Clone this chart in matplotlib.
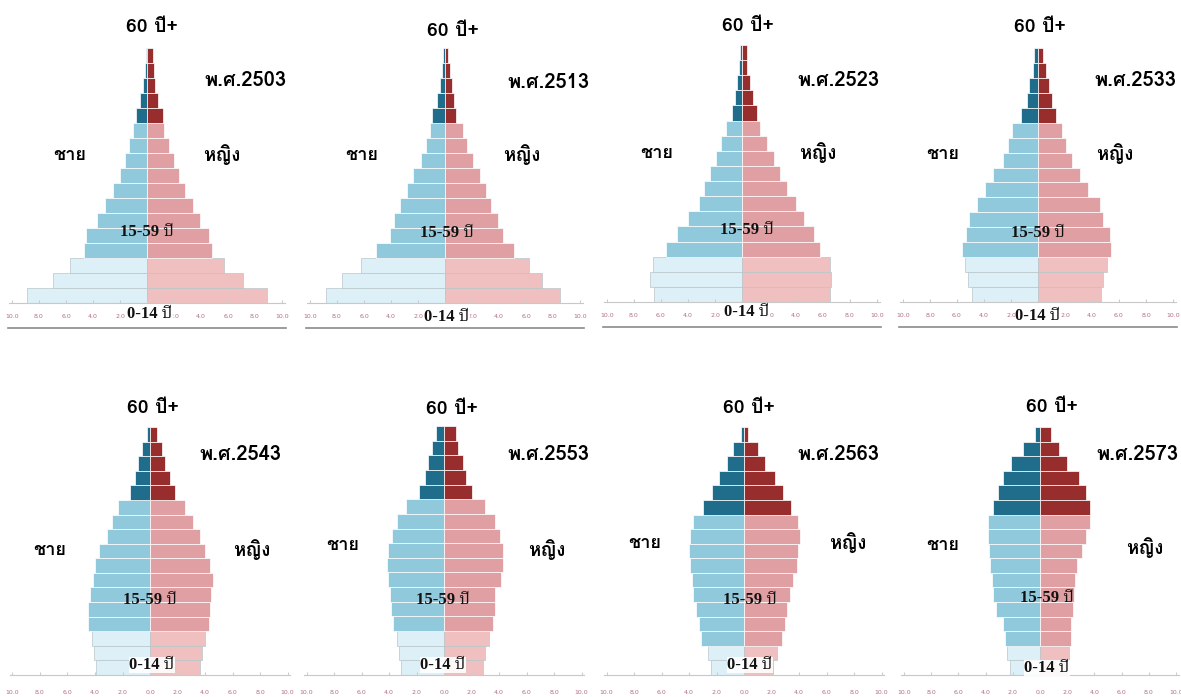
import numpy as np
import matplotlib
matplotlib.use('Agg')
import matplotlib.pyplot as plt
from matplotlib.lines import Line2D

# age groups 0-4 ... 80+ (bottom to top), percent of population
ages = ['0-4', '5-9', '10-14', '15-19', '20-24', '25-29', '30-34', '35-39', '40-44',
        '45-49', '50-54', '55-59', '60-64', '65-69', '70-74', '75-79', '80+']

male_2503 = [8.9, 7.0, 5.7, 4.7, 4.5, 3.7, 3.1, 2.5, 2.0, 1.65, 1.35, 1.05, 0.8, 0.5, 0.3, 0.17, 0.07]
female_2503 = [8.9, 7.1, 5.7, 4.8, 4.6, 3.9, 3.4, 2.8, 2.4, 2.0, 1.6, 1.25, 1.2, 0.8, 0.6, 0.5, 0.45]

male_2513 = [8.8, 7.6, 6.2, 5.1, 4.1, 3.8, 3.3, 2.8, 2.35, 1.8, 1.4, 1.1, 0.95, 0.6, 0.4, 0.25, 0.17]
female_2513 = [8.5, 7.2, 6.2, 5.1, 4.3, 3.9, 3.4, 3.0, 2.6, 2.05, 1.6, 1.3, 0.85, 0.65, 0.55, 0.35, 0.25]

male_2523 = [6.5, 6.8, 6.6, 5.6, 4.8, 4.0, 3.2, 2.8, 2.4, 1.9, 1.55, 1.15, 0.75, 0.5, 0.37, 0.25, 0.17]
female_2523 = [6.5, 6.6, 6.5, 5.8, 5.3, 4.6, 4.0, 3.3, 2.8, 2.35, 1.85, 1.35, 1.1, 0.85, 0.6, 0.4, 0.37]

male_2533 = [4.9, 5.2, 5.4, 5.6, 5.35, 5.1, 4.5, 3.95, 3.3, 2.6, 2.2, 1.9, 1.25, 0.85, 0.65, 0.4, 0.3]
female_2533 = [4.7, 4.8, 5.1, 5.4, 5.3, 4.8, 4.6, 3.7, 3.1, 2.5, 2.1, 1.8, 1.35, 1.0, 0.8, 0.6, 0.4]

male_2543 = [3.9, 4.1, 4.25, 4.5, 4.5, 4.35, 4.15, 4.0, 3.7, 3.15, 2.8, 2.3, 1.45, 1.1, 0.85, 0.55, 0.25]
female_2543 = [3.6, 3.75, 4.0, 4.3, 4.35, 4.4, 4.6, 4.35, 4.0, 3.6, 3.15, 2.55, 1.8, 1.45, 1.1, 0.85, 0.5]

male_2553 = [3.1, 3.3, 3.45, 3.7, 3.85, 3.9, 4.05, 4.15, 4.05, 3.8, 3.45, 2.75, 1.8, 1.4, 1.15, 0.9, 0.6]
female_2553 = [2.8, 2.95, 3.3, 3.55, 3.7, 3.7, 4.15, 4.3, 4.3, 4.05, 3.7, 2.95, 2.05, 1.6, 1.4, 1.0, 0.9]

male_2563 = [2.4, 2.65, 3.1, 3.3, 3.5, 3.7, 3.8, 3.95, 4.0, 3.95, 3.7, 2.95, 2.35, 1.85, 1.25, 0.8, 0.2]
female_2563 = [2.1, 2.4, 2.75, 3.0, 3.15, 3.35, 3.55, 3.85, 3.95, 4.05, 3.95, 3.45, 2.85, 2.25, 1.5, 1.05, 0.3]

male_2573 = [2.2, 2.4, 2.6, 2.7, 3.2, 3.45, 3.55, 3.65, 3.75, 3.8, 3.8, 3.45, 3.1, 2.7, 2.1, 1.25, 0.4]
female_2573 = [2.0, 2.15, 2.25, 2.25, 2.4, 2.5, 2.6, 2.75, 3.1, 3.35, 3.65, 3.7, 3.35, 2.85, 2.0, 1.4, 0.8]

years = ['2503', '2513', '2523', '2533', '2543', '2553', '2563', '2573']
males = [male_2503, male_2513, male_2523, male_2533, male_2543, male_2553, male_2563, male_2573]
females = [female_2503, female_2513, female_2523, female_2533, female_2543, female_2553, female_2563, female_2573]
# how many bars are drawn as children / working age in each picture
n_young = [3, 3, 3, 3, 3, 3, 2, 2]
n_work = [9, 9, 9, 9, 9, 9, 9, 9]

xticks = [-10, -8, -6, -4, -2, 0, 2, 4, 6, 8, 10]
xtick_labels = ['10.0', '8.0', '6.0', '4.0', '2.0', '0.0', '2.0', '4.0', '6.0', '8.0', '10.0']

W, H = 1181, 697

# panel placement in pixels: centre x, axis y, top y, px per percent
panels = [
    (147, 303, 48, 13.5), (445, 303, 48, 13.5), (742, 302, 45, 13.5), (1038, 302, 48, 13.5),
    (150, 675, 427, 13.75), (444, 675, 426, 13.75), (744, 675, 427, 13.75), (1040, 675, 427, 13.6),
]
# label positions (pixels) : 60+, year, male, female, 15-59, 0-14
label_pos = [
    [(152, 27), (245, 80), (70, 155), (222, 155), (147, 232), (150, 314)],
    [(453, 31), (548, 82), (362, 155), (522, 155), (447, 233), (447, 317)],
    [(748, 26), (838, 80), (657, 153), (818, 153), (747, 230), (747, 312)],
    [(1040, 27), (1135, 80), (943, 154), (1115, 154), (1038, 233), (1038, 316)],
    [(153, 408), (240, 455), (50, 550), (252, 550), (150, 600), (152, 665)],
    [(452, 409), (548, 455), (343, 545), (547, 550), (443, 600), (443, 665)],
    [(749, 408), (838, 455), (645, 543), (848, 543), (750, 600), (750, 665)],
    [(1052, 407), (1137, 455), (943, 545), (1145, 548), (1047, 598), (1047, 668)],
]

m_cols = ['#ddf0f7', '#90c8dc', '#1f6c8b']
f_cols = ['#f0c0c0', '#e0a0a3', '#982d2e']

thai = ['Loma', 'Noto Sans Thai', 'DejaVu Sans']
serif = ['Liberation Serif', 'Noto Serif Thai', 'DejaVu Serif']


def fx(x):
    return x / W


def fy(y):
    return 1 - y / H


fig = plt.figure(figsize=(W / 100, H / 100), dpi=100)

half = 10.7
for k in range(8):
    cx, base, top, sc = panels[k]
    ax = fig.add_axes([fx(cx - half * sc), fy(base), 2 * half * sc / W, (base - top) / H])
    y = np.arange(len(ages))
    cm, cf, ec = [], [], []
    for i in range(len(ages)):
        if i < n_young[k]:
            g = 0
        elif i < n_young[k] + n_work[k]:
            g = 1
        else:
            g = 2
        cm.append(m_cols[g])
        cf.append(f_cols[g])
        ec.append('#b9c6ca' if g == 0 else '#ffffff')
    m = np.array(males[k])
    f = np.array(females[k])
    ax.barh(y, -m, height=1, align='edge', color=cm, edgecolor=ec, linewidth=0.5)
    ax.barh(y, f, height=1, align='edge', color=cf, edgecolor=ec, linewidth=0.5)
    ax.set_xlim(-half, half)
    ax.set_ylim(0, len(ages))
    for s in ['top', 'left', 'right']:
        ax.spines[s].set_visible(False)
    ax.spines['bottom'].set_bounds(-10.2, 10.2)
    ax.spines['bottom'].set_color('#c8c8c8')
    ax.spines['bottom'].set_linewidth(0.8)
    ax.set_yticks([])
    ax.set_xticks(xticks)
    labels = list(xtick_labels)
    if k < 4:
        # the 0-14 label sits on top of the centre tick labels
        labels[5] = ''
    ax.set_xticklabels(labels)
    ax.tick_params(axis='x', direction='in', length=2, color='#cccccc',
                   pad=8 if k < 4 else 11, labelsize=4.5, labelcolor='#b27080')
    ax.patch.set_alpha(0)

    if k < 4:
        fig.add_artist(Line2D([fx(cx - 10.3 * sc), fx(cx + 10.3 * sc)], [fy(base + 25)] * 2,
                              color='#8a8a8a', lw=1.2))

    lp = label_pos[k]
    fig.text(fx(lp[0][0]), fy(lp[0][1]), '60 ปี+', ha='center', va='center',
             fontsize=14, family=thai, fontweight='bold')
    fig.text(fx(lp[1][0]), fy(lp[1][1]), 'พ.ศ.' + years[k], ha='center', va='center',
             fontsize=14.5, family=thai, fontweight='bold')
    fig.text(fx(lp[2][0]), fy(lp[2][1]), 'ชาย', ha='center', va='center',
             fontsize=13, family=thai, fontweight='bold')
    fig.text(fx(lp[3][0]), fy(lp[3][1]), 'หญิง', ha='center', va='center',
             fontsize=13.5, family=thai, fontweight='bold')
    fig.text(fx(lp[4][0]), fy(lp[4][1]), '15-59 ปี', ha='center', va='center',
             fontsize=12, family=serif, color='#111111', fontweight='bold')
    fig.text(fx(lp[5][0]), fy(lp[5][1]), '0-14 ปี', ha='center', va='center',
             fontsize=12, family=serif, color='#111111', fontweight='bold',
             bbox=dict(facecolor='white', edgecolor='none', pad=0.3, alpha=0.9))

fig.savefig('out.png', dpi=100)
